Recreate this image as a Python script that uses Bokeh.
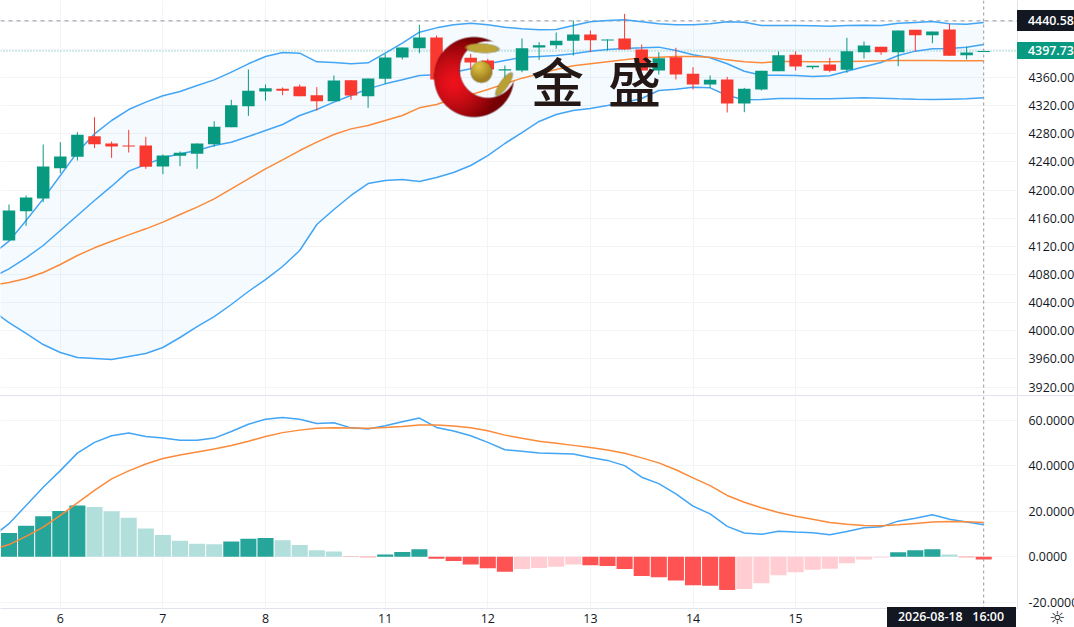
import numpy as np
from bokeh.embed import file_html
from bokeh.resources import INLINE
from bokeh.plotting import figure
from bokeh.layouts import column
from bokeh.core.properties import value
from bokeh.models import FixedTicker, Span, Div, NumeralTickFormatter

# ---------------- data ----------------
open_ = [4128.3,4170.0,4188.0,4231.1,4247.2,4276.6,4266.2,4263.4,4263.4,4233.5,4248.7,4251.5,4265.3,4289.4,4319.3,4340.1,4343.9,4347.2,4334.9,4326.4,
         4356.2,4333.5,4358.1,4388.5,4401.7,4416.9,4357.2,4388.0,4384.2,4370.0,4370.0,4402.7,4406.0,4412.2,4421.2,4412.6,4415.5,4399.8,4370.0,4388.9,
         4365.2,4350.1,4357.2,4323.1,4343.0,4369.0,4392.3,4374.7,4378.5,4370.9,4396.0,4403.6,4396.0,4427.8,4420.2,4428.3,4391.8,4396.3]
high  = [4179.5,4192.3,4264.8,4268.1,4282.3,4303.6,4269.0,4285.6,4275.7,4250.6,4254.8,4266.2,4297.9,4328.3,4371.4,4350.1,4345.8,4350.1,4346.3,4362.9,
         4356.2,4358.6,4393.7,4402.7,4434.9,4419.7,4388.9,4393.7,4386.6,4377.1,4415.5,4410.3,4424.0,4441.1,4426.8,4414.1,4450.5,4406.9,4396.0,4402.2,
         4374.7,4362.9,4361.0,4345.3,4369.5,4397.0,4397.0,4376.6,4388.0,4416.4,4411.2,4403.6,4426.8,4427.8,4425.4,4436.3,4404.1,4397.9]
low   = [4128.3,4149.1,4182.8,4224.0,4242.0,4259.6,4245.8,4253.4,4230.2,4222.6,4234.0,4230.2,4261.5,4289.4,4305.5,4327.3,4334.9,4333.5,4313.1,4326.4,
         4328.3,4316.9,4351.0,4385.6,4394.6,4357.2,4356.7,4372.4,4360.5,4355.8,4367.6,4385.1,4400.8,4391.3,4396.0,4398.4,4399.4,4369.0,4364.3,4357.2,
         4343.0,4345.3,4310.3,4310.7,4341.5,4369.0,4370.0,4371.9,4367.6,4366.7,4387.0,4392.3,4376.1,4397.5,4408.8,4390.8,4385.6,4396.0]
close = [4170.9,4189.4,4233.5,4247.7,4278.5,4265.3,4261.9,4261.9,4233.0,4249.1,4252.9,4266.2,4289.9,4320.7,4341.1,4344.9,4341.1,4333.5,4326.4,4355.8,
         4334.4,4358.6,4388.5,4402.7,4416.9,4357.2,4388.0,4381.4,4371.4,4371.9,4401.7,4406.0,4412.2,4421.2,4413.1,4414.1,4399.8,4370.0,4387.5,4364.3,
         4350.1,4356.7,4323.1,4343.9,4369.5,4391.8,4375.7,4376.6,4369.5,4397.5,4405.5,4396.0,4426.8,4420.2,4425.4,4390.8,4395.6,4397.73]
# the four overlay lines and the two MACD lines begin one bar before the first visible candle
upper = [4108.4,4127.3,4156.7,4187.5,4220.7,4253.9,4279.9,4298.9,4314.5,4325.0,4334.0,4340.1,4348.7,4356.7,4367.6,4379.5,4389.9,4395.6,4394.6,4382.3,4381.4,
         4379.5,4380.9,4394.6,4408.8,4424.5,4430.6,4434.9,4437.3,4434.9,4431.6,4429.2,4427.8,4428.3,4434.0,4439.2,4441.1,4442.0,4439.2,4436.3,4434.9,
         4434.9,4436.3,4439.2,4438.7,4434.0,4434.0,4434.0,4433.5,4433.0,4434.0,4434.4,4434.0,4437.3,4438.2,4439.6,4436.3,4435.9,4438.2]
ma_fast = [4075.7,4088.0,4103.7,4121.2,4142.5,4163.8,4185.2,4205.5,4226.9,4236.3,4245.8,4251.5,4256.2,4263.4,4268.1,4276.1,4284.7,4293.2,4306.0,4314.5,4325.0,
           4334.4,4343.9,4351.0,4356.7,4362.9,4363.8,4367.6,4372.4,4379.5,4384.2,4388.9,4389.9,4391.3,4393.7,4397.5,4399.8,4401.3,4402.2,4403.2,4398.4,
           4392.3,4388.0,4379.5,4369.0,4363.3,4363.3,4362.9,4361.5,4362.4,4369.0,4375.2,4381.4,4391.3,4397.5,4400.8,4401.3,4403.2,4406.9]
ma_slow = [4064.3,4068.6,4074.3,4082.8,4094.2,4107.0,4117.9,4127.3,4136.3,4144.9,4154.4,4165.3,4175.7,4187.5,4201.7,4216.0,4230.2,4243.0,4256.2,4268.1,4279.0,
           4287.0,4291.8,4298.9,4306.0,4316.9,4321.6,4329.7,4335.4,4343.0,4351.0,4359.1,4365.2,4371.4,4376.6,4379.5,4382.3,4385.1,4388.0,4388.9,4389.9,
           4389.9,4388.9,4385.1,4382.3,4380.9,4382.8,4382.8,4382.3,4382.3,4382.8,4383.3,4383.7,4384.2,4384.2,4384.2,4383.7,4383.7,4383.7]
lower = [4028.8,4011.7,3996.1,3980.4,3969.1,3962.0,3960.5,3959.1,3963.4,3967.6,3976.2,3990.4,4006.0,4020.2,4037.3,4055.8,4072.8,4091.3,4114.1,4151.0,4172.4,
         4192.3,4209.3,4213.6,4215.0,4212.2,4217.9,4225.0,4234.9,4249.1,4266.2,4281.8,4297.5,4307.4,4313.1,4316.0,4320.2,4324.5,4330.2,4341.5,4343.4,
         4346.3,4345.3,4334.4,4328.3,4328.8,4330.2,4330.2,4329.7,4329.7,4330.6,4331.1,4330.6,4329.7,4329.2,4328.8,4329.2,4329.7,4331.1]
macd = [8.6,14.5,22.5,30.5,37.8,45.5,50.2,53.1,54.3,52.8,52.1,51.2,51.2,52.1,55.0,58.2,60.4,61.2,60.4,58.5,58.8,
        56.6,56.1,57.5,59.3,60.9,56.8,55.2,53.1,50.2,47.0,46.3,45.5,45.3,45.1,43.6,42.3,40.0,34.9,32.1,27.6,
        22.2,18.8,13.3,10.4,9.8,11.2,10.8,10.5,9.6,11.1,12.7,13.1,15.6,16.9,18.4,16.4,15.2,14.0]
signal = [3.1,5.3,8.9,13.0,18.1,23.6,29.1,34.2,37.7,40.7,43.1,44.7,46.0,47.3,48.8,50.7,52.8,54.5,55.6,56.4,56.6,
          56.5,56.4,56.8,57.2,57.8,57.8,57.4,56.6,55.3,53.4,52.0,50.7,49.8,48.9,48.0,46.9,45.4,43.4,41.2,38.2,
          34.6,31.2,26.9,23.9,21.5,19.4,17.8,16.4,15.0,14.2,13.7,13.6,14.0,14.6,15.2,15.5,15.3,15.0]
hist = [10.4,13.6,17.7,20.1,22.5,21.8,19.9,17.1,12.4,9.5,7.0,5.7,5.4,6.7,7.9,8.2,7.2,5.1,2.8,2.3,
        -0.2,-0.3,1.0,2.0,3.2,-0.9,-1.9,-3.4,-5.1,-6.6,-5.4,-5.0,-4.4,-3.5,-3.8,-4.1,-5.4,-8.5,-9.1,-10.5,
        -12.6,-12.8,-14.7,-14.2,-11.7,-8.2,-6.8,-5.7,-5.3,-2.9,-1.2,-0.4,1.9,2.8,3.2,1.0,-0.3,-1.2]
date_ticks = [3, 9, 15, 22, 28, 34, 40, 46]
date_labels = ["6", "7", "8", "11", "12", "13", "14", "15"]
price_ticks = [3920,3960,4000,4040,4080,4120,4160,4200,4240,4280,4320,4360]
price_grid = price_ticks + [4400, 4440]
macd_ticks = [-20, 0, 20, 40, 60]
high_price = 4440.58
last_price = 4397.73
cross_bar = 57
cross_label = "2026-08-18\u00a0\u00a0\u00a016:00"
logo_words = ["金", "盛"]

# ---------------- styles ----------------
GREEN, RED = "#089981", "#f9392f"
BLUE, ORANGE = "#42a5f5", "#fb8b3a"
GRID, BORDER, INK = "#f2f4f8", "#e0e3eb", "#131722"
FONT = "Open Sans"
FS = "12.4px"
LW = 1.5

n = len(close)
xs = np.arange(n)
xl = np.arange(-1, n)
XSTEP, X0, FRAME_W = 17.1, 8.5, 1017
PRICE_TOP, PX_PER_PRICE = 4469.5, 0.7034
MACD_ZERO_PX, PX_PER_MACD, MACD_TOP_PX = 555.4, 2.265, 396

def x_at(px):
    return (px - X0) / XSTEP
def price_at(py):
    return PRICE_TOP - py / PX_PER_PRICE
def macd_at(py):
    return (MACD_ZERO_PX - py) / PX_PER_MACD
def price_px(price):
    return (PRICE_TOP - price) * PX_PER_PRICE

xr = (x_at(0), x_at(FRAME_W))

def base(height, frame_h, yr, bottom):
    p = figure(width=1074, height=height, frame_width=FRAME_W, frame_height=frame_h,
               x_range=xr, y_range=yr, y_axis_location="right", x_axis_location="below" if bottom else None,
               toolbar_location=None, output_backend="svg", tools="",
               min_border_left=0, min_border_top=0, min_border_right=0, min_border_bottom=bottom,
               background_fill_color="white", outline_line_color=None)
    p.yaxis.major_tick_line_color = None
    p.yaxis.minor_tick_line_color = None
    p.yaxis.major_tick_out = 0
    p.yaxis.major_tick_in = 0
    p.yaxis.axis_line_color = BORDER
    p.yaxis.major_label_standoff = 11
    p.yaxis.major_label_text_font = FONT
    p.yaxis.major_label_text_font_size = FS
    p.yaxis.major_label_text_color = INK
    p.xgrid.ticker = FixedTicker(ticks=date_ticks)
    p.xgrid.grid_line_color = GRID
    p.ygrid.grid_line_color = GRID
    return p

# ---------------- price pane ----------------
p1 = base(395, 395, (price_at(395), price_at(0)), 0)
p1.yaxis.ticker = FixedTicker(ticks=price_ticks)
p1.yaxis.formatter = NumeralTickFormatter(format="0.00")
p1.ygrid.ticker = FixedTicker(ticks=price_grid)

p1.varea(xl, lower, upper, fill_color="#2196f3", fill_alpha=0.05)
p1.line(xl, upper, line_color=BLUE, line_width=LW)
p1.line(xl, lower, line_color=BLUE, line_width=LW)
p1.line(xl, ma_fast, line_color=BLUE, line_width=LW)
p1.line(xl, ma_slow, line_color=ORANGE, line_width=LW)

colors = [GREEN if c >= o else RED for o, c in zip(open_, close)]
p1.segment(xs, high, xs, low, line_color=colors, line_width=1)
p1.vbar(xs, 0.73, np.minimum(open_, close), np.maximum(open_, close), fill_color=colors, line_color=None)

p1.add_layout(Span(location=high_price, dimension="width", line_color="#9598a1", line_dash="4 4", line_width=1, level="underlay"))
p1.add_layout(Span(location=last_price, dimension="width", line_color=GREEN, line_alpha=0.7, line_dash="1 2", line_width=1, level="underlay"))
p1.add_layout(Span(location=cross_bar, dimension="height", line_color="#9598a1", line_dash="3 3", line_width=1))

# watermark logo, computed as a small picture in page pixels
LX, LY, LWD, LH, SS = 430, 33, 86, 88, 2
gy, gx = np.mgrid[0:LH * SS, 0:LWD * SS]
gx = LX + (gx + 0.5) / SS
gy = LY + (gy + 0.5) / SS

def inside(dist):
    return np.clip(0.5 - dist, 0, 1)
def circ(cx, cy, r):
    return np.hypot(gx - cx, gy - cy) - r
def ell(cx, cy, a, b, deg):
    t = np.deg2rad(deg)
    u = (gx - cx) * np.cos(t) + (gy - cy) * np.sin(t)
    v = -(gx - cx) * np.sin(t) + (gy - cy) * np.cos(t)
    return (np.sqrt((u / a) ** 2 + (v / b) ** 2) - 1) * b

rgb = np.zeros(gx.shape + (3,))
alpha = np.zeros(gx.shape)
def paint(mask, r, g, b):
    global alpha
    for k, c in enumerate((r, g, b)):
        rgb[..., k] = rgb[..., k] * (1 - mask) + c * mask
    alpha = alpha + mask * (1 - alpha)

cres = inside(circ(473.3, 76.8, 40)) * inside(-circ(487.3, 69.3, 28.3))
t = np.clip(np.hypot(gx - 453, gy - 82) / 46, 0, 1) ** 1.4
paint(cres, 238 - 120 * t, 18 - 18 * t, 28 - 24 * t)
leaf_t = inside(ell(481.5, 48, 16.5, 4.6, 3))
paint(leaf_t, 190, 165, 55)
leaf_r = inside(ell(503.3, 84, 13.5, 4.2, -55))
paint(leaf_r, 186, 160, 50)
ball = inside(circ(480.7, 71.7, 10.8))
tb = np.clip(np.hypot(gx - 478, gy - 66) / 14, 0, 1)
paint(ball, 226 - 66 * tb, 200 - 72 * tb, 70 - 38 * tb)

img = np.zeros(gx.shape, dtype=np.uint32)
view = img.view(np.uint8).reshape(gx.shape + (4,))
view[..., :3] = np.clip(rgb, 0, 255).astype(np.uint8)
view[..., 3] = (alpha * 255).astype(np.uint8)
p1.image_rgba(image=[img[::-1]], x=x_at(LX), y=price_at(LY + LH), dw=LWD / XSTEP, dh=LH / PX_PER_PRICE)

p1.text(x=[x_at(557), x_at(634)], y=[price_at(79), price_at(79)], text=logo_words,
        text_font=value("Noto Sans CJK SC Medium"), text_font_size="53px",
        text_color="#231815", text_align="center", text_baseline="middle")

# ---------------- MACD pane ----------------
p2 = base(231, 211, (macd_at(607), macd_at(MACD_TOP_PX)), 20)
p2.yaxis.ticker = FixedTicker(ticks=macd_ticks)
p2.yaxis.formatter = NumeralTickFormatter(format="0.0000")
p2.ygrid.ticker = FixedTicker(ticks=macd_ticks)
ax = p2.xaxis[0]
ax.ticker = FixedTicker(ticks=date_ticks)
ax.major_label_overrides = dict(zip(date_ticks, date_labels))
ax.major_tick_line_color = None
ax.minor_tick_line_color = None
ax.major_tick_out = 0
ax.major_tick_in = 0
ax.axis_line_color = BORDER
ax.major_label_standoff = 5
ax.major_label_text_font = FONT
ax.major_label_text_font_size = FS
ax.major_label_text_color = INK
p2.styles = {"border-top": f"1px solid {BORDER}"}

h_colors = []
for i, h in enumerate(hist):
    prev = hist[i - 1] if i else h - 1
    if h >= 0:
        h_colors.append("#26a69a" if h >= prev else "#b2dfdb")
    else:
        h_colors.append("#ff5252" if h <= prev else "#ffcdd2")
p2.vbar(xs, 0.94, 0, hist, fill_color=h_colors, line_color=None)
p2.line(xl, macd, line_color=BLUE, line_width=LW)
p2.line(xl, signal, line_color=ORANGE, line_width=LW)
p2.add_layout(Span(location=cross_bar, dimension="height", line_color="#9598a1", line_dash="3 3", line_width=1))

# ---------------- tags that sit over the axes ----------------
def tag(left, top, w, h, text, bg, color="white", weight="600", size=FS, font=FONT, pad=11):
    return Div(text=text, width=w, height=h, margin=0, styles={
        "position": "absolute", "left": f"{left}px", "top": f"{top}px", "width": f"{w}px", "height": f"{h}px",
        "background-color": bg, "color": color, "font-family": f"'{font}'", "font-size": size, "font-weight": weight,
        "line-height": f"{h}px", "padding-left": f"{pad}px", "box-sizing": "border-box",
        "overflow": "hidden", "white-space": "nowrap", "z-index": "5"})

tags = [
    tag(1017, round(price_px(high_price)) - 10, 57, 21, f"{high_price:.2f}", INK),
    tag(1017, round(price_px(last_price)) - 8, 57, 17, f"{last_price:.2f}", GREEN),
    tag(887, 607, 129, 20, cross_label, INK),
    tag(1047, 608, 24, 19, "☼", "white", color=INK, weight="normal", size="18px", font="DejaVu Sans", pad=2),
]

page = column(p1, p2, *tags, spacing=0, styles={"position": "absolute", "left": "0px", "top": "0px"})
open("out.html", "w").write(file_html(page, INLINE))
